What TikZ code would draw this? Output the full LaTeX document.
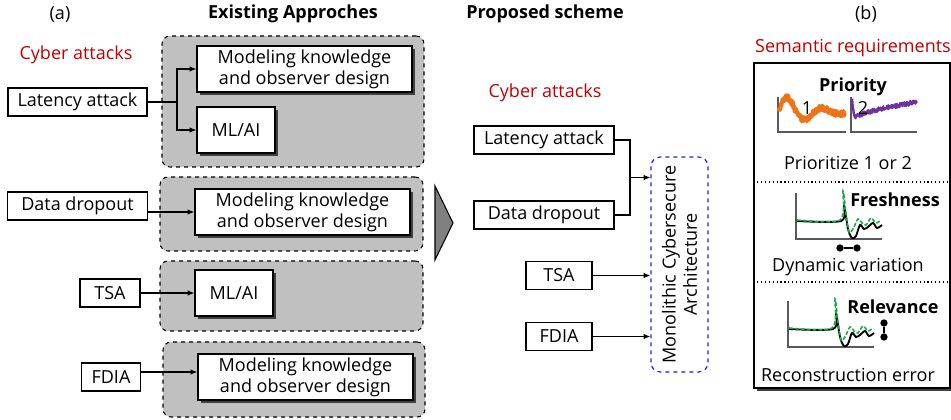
\documentclass[tikz,border=0pt]{standalone}
\usepackage{fontspec}
\setmainfont{Open Sans}
\usepackage{xcolor}
\usepackage{tikz}
\usetikzlibrary{arrows.meta,shadows}
\definecolor{attackRed}{HTML}{C00000}
\definecolor{groupGray}{HTML}{C0C0C0}
\definecolor{archBlue}{HTML}{1F1FE6}
\definecolor{prioOrange}{HTML}{EE7418}
\definecolor{prioPurple}{HTML}{7030A0}
\definecolor{refGreen}{HTML}{1DAA4A}
\newcommand{\fs}{\fontsize{13.5}{16}\selectfont}

% small step response (green = reference, black = reconstruction)
\newcommand{\respplot}[1]{%
  \begin{scope}[shift={#1}]
    \draw[plotaxis] (0,-46) -- (0,0) -- (86,0);
    \draw[black, line width=1.4pt] plot[smooth] coordinates {(1,-18) (45,-18) (48,-33) (52,-10) (56,-1) (60,-3) (64,-14) (68,-10) (72,-12) (77,-16) (81,-11) (86,-14)};
    \draw[refGreen, line width=1.2pt, dash pattern=on 3pt off 1.4pt] plot[smooth] coordinates {(1,-19) (44,-19) (47,-48) (50,-25) (53,-7) (57,-10) (62,-20) (66,-16) (70,-14) (75,-21) (80,-16) (85,-19)};
  \end{scope}}

\begin{document}
\begin{tikzpicture}[x=0.75pt, y=-0.75pt,
    atkbox/.style={draw, line width=0.9pt, fill=white, font=\fs, inner sep=0pt, minimum height=21pt},
    method/.style={draw, line width=0.9pt, fill=white, font=\fs, inner sep=0pt, align=center, minimum height=34.5pt,
        drop shadow={shadow xshift=2.2pt, shadow yshift=-2.2pt, fill=black!75, opacity=1}},
    grp/.style={draw, dashed, line width=0.8pt, fill=groupGray, rounded corners=6pt, inner sep=0pt},
    arr/.style={-{Latex[length=5pt,width=4pt]}, line width=0.8pt},
    redlabel/.style={text=attackRed, font=\fs},
    title/.style={font=\fs\bfseries},
    plotaxis/.style={draw=black!65, line width=0.8pt},
    dot/.style={circle, fill=black, inner sep=0pt, minimum size=5.5pt}]

\useasboundingbox (0,0) rectangle (951,420);

% (a) existing approaches
\node (lbla) at (60,15) {\fs (a)};
\node[title] (ttlex) at (293,14) {Existing Approches};
\node[redlabel] (cyb1) at (76,55) {Cyber attacks};

\node[grp, minimum width=196.5pt, minimum height=98.25pt] (grp1) at (293,101.5) {};
\node[grp, minimum width=197.25pt, minimum height=55.5pt] (grp2) at (291.5,214) {};
\node[grp, minimum width=197.25pt, minimum height=52.5pt] (grp3) at (291.5,296) {};
\node[grp, minimum width=196.5pt, minimum height=56.25pt] (grp4) at (294,379.5) {};

\node[method, minimum width=161.25pt] (mk1) at (304.5,69) {Modeling knowledge\\and observer design};
\node[method, minimum width=58.5pt] (ml1) at (236,130) {ML/AI};
\node[method, minimum width=161.25pt] (mk2) at (302.5,212) {Modeling knowledge\\and observer design};
\node[method, minimum width=58.5pt] (ml3) at (234,293) {ML/AI};
\node[method, minimum width=161.25pt] (mk4) at (305.5,377) {Modeling knowledge\\and observer design};

\node[atkbox, minimum width=104.25pt] (lat1) at (77.5,102) {Latency attack};
\node[atkbox, minimum width=105pt] (dd1) at (77.5,206) {Data dropout};
\node[atkbox, minimum width=45pt] (tsa1) at (110,293) {TSA};
\node[atkbox, minimum width=44pt] (fdia1) at (111,377) {FDIA};

\coordinate (sp1) at (177,102);
\draw[line width=0.8pt] (lat1.east) -- (sp1);
\draw[arr] (sp1) |- (mk1.west);
\draw[arr] (sp1) |- (ml1.west);
\draw[arr] (dd1.east |- 0,212) -- (mk2.west);
\draw[arr] (tsa1.east) -- (ml3.west);
\draw[arr] (fdia1.east |- 0,372) -- (mk4.west |- 0,372);

% big arrow
\draw[line width=0.8pt, fill=black!50] (435,186) -- (453,223) -- (435,260) -- cycle;

% proposed scheme
\node[title] (ttlpr) at (545,14) {Proposed scheme};
\node[redlabel] (cyb2) at (545,93) {Cyber attacks};

\node[atkbox, minimum width=105pt] (lat2) at (544,140) {Latency attack};
\node[atkbox, minimum width=105pt] (dd2) at (544,215) {Data dropout};
\node[atkbox, minimum width=49.5pt] (tsa2) at (559,275.5) {TSA};
\node[atkbox, minimum width=49.5pt] (fdia2) at (559,336.5) {FDIA};

\node[draw=archBlue, dashed, line width=0.9pt, rounded corners=7pt, rotate=90, align=center, font=\fs,
      inner sep=0pt, minimum width=161.25pt, minimum height=42.75pt] (mca) at (679.5,264.5)
      {Monolithic Cybersecure\\Architecture};

\coordinate (jn) at (630,177.5);
\draw[line width=0.8pt] (lat2.east) -| (jn) |- (dd2.east);
\draw[arr] (jn) -- (mca.north |- jn);
\draw[arr] (tsa2.east) -- (mca.north |- tsa2.east);
\draw[arr] (fdia2.east) -- (mca.north |- fdia2.east);

% (b) semantic requirements
\node (lblb) at (866,14) {\fs (b)};
\node[redlabel] (semttl) at (853,48) {Semantic requirements};
\node[draw, line width=0.9pt, fill=white, minimum width=147pt, minimum height=243.75pt,
      drop shadow={shadow xshift=2.2pt, shadow yshift=-2.2pt, fill=black!75, opacity=1}] (sembox) at (852,225.5) {};
\draw[dotted, line width=0.9pt] (sembox.west |- 0,182) -- (sembox.east |- 0,182);
\draw[dotted, line width=0.9pt] (sembox.west |- 0,282) -- (sembox.east |- 0,282);

% priority
\pgfmathsetseed{7}
\draw[plotaxis] (778,97) -- (778,132) -- (846,132);
\draw[plotaxis] (851,97) -- (851,132) -- (917,132);
\draw[prioOrange, line width=3pt, line join=round] plot[domain=0:1, samples=170, variable=\t]
    ({779+66*\t}, {112-20*exp(-2.5*\t)*cos(667*(\t-0.13))+2.8*rand});
\draw[prioPurple, line width=1.8pt, line join=round] plot[domain=0.002:1, samples=170, variable=\t]
    ({852+65*\t}, {120-18*\t^0.6-23*exp(-60*\t)+2.2*rand});
\node[font=\fs] (one) at (807,108) {1};
\node[font=\fs] (two) at (863,108) {2};
\node[title] (prio) at (853,87) {Priority};
\node[font=\fs] (prioTxt) at (848,163) {Prioritize 1 or 2};

% freshness
\respplot{(796,239)}
\node[title] (fresh) at (895,200) {Freshness};
\node[dot] (fa) at (840,248) {};
\node[dot] (fb) at (857,248) {};
\draw[line width=1.2pt] (fa) -- (fb);
\node[font=\fs] (freshTxt) at (848,267) {Dynamic variation};

% relevance
\respplot{(788,347)}
\node[title] (relev) at (893,307) {Relevance};
\node[dot] (ra) at (884,323) {};
\node[dot] (rb) at (884,337) {};
\draw[line width=1.2pt] (ra) -- (rb);
\node[font=\fs] (relevTxt) at (848,375) {Reconstruction error};

\end{tikzpicture}
\end{document}
